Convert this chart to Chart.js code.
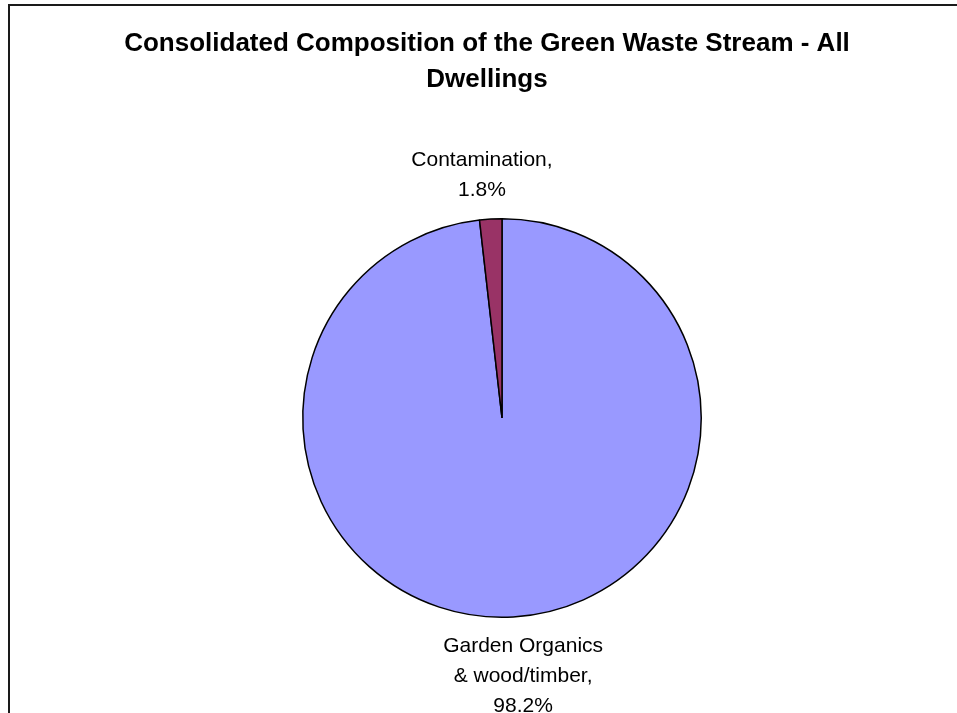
<!doctype html>
<html>
<head>
<title>Green Waste Stream - All Dwellings</title>
<script src="https://cdn.jsdelivr.net/npm/chart.js@4/dist/chart.umd.min.js"></script>
<style>
body { margin: 0; background: #fff; }
canvas { display: block; }
</style>
</head>
<body>
<canvas id="mycanvas" width="957" height="713"></canvas>
<script>
// chart data
var categories = ["Garden Organics & wood/timber", "Contamination"];
var labelLines = [["Garden Organics", "& wood/timber,"], ["Contamination,"]];
var shares = [98.2, 1.8];
var sliceColours = ["#9999FF", "#993366"];

var titleLines = ["Consolidated Composition of the Green Waste Stream - All", "Dwellings"];

// white page + the chart frame (only top and left edges are visible)
var framePlugin = {
    id: 'frame',
    beforeDraw: function(chart) {
        var ctx = chart.ctx;
        ctx.save();
        ctx.fillStyle = '#fff';
        ctx.fillRect(0, 0, chart.width, chart.height);
        ctx.strokeStyle = '#1a1a1a';
        ctx.lineWidth = 2;
        ctx.beginPath();
        ctx.moveTo(9, chart.height + 5);
        ctx.lineTo(9, 5);
        ctx.lineTo(chart.width + 5, 5);
        ctx.stroke();
        ctx.restore();
    }
};

// title is drawn by hand: the built-in one gets squeezed by the layout padding
var titlePlugin = {
    id: 'bigTitle',
    afterDraw: function(chart) {
        var ctx = chart.ctx;
        ctx.save();
        ctx.font = 'bold 26px "Liberation Sans", Arial, sans-serif';
        ctx.fillStyle = '#000';
        ctx.textAlign = 'center';
        ctx.textBaseline = 'alphabetic';
        titleLines.forEach(function(t, i) {
            ctx.fillText(t, 487, 51 + i * 36);
        });
        ctx.restore();
    }
};

// excel style outside-end labels: "name, value%"
var sliceLabels = {
    id: 'sliceLabels',
    afterDatasetsDraw: function(chart) {
        var ctx = chart.ctx;
        var meta = chart.getDatasetMeta(0);
        var lineH = 30;
        var gap = 14;
        ctx.save();
        ctx.font = '21px "Liberation Sans", Arial, sans-serif';
        ctx.fillStyle = '#000';
        ctx.textAlign = 'center';
        ctx.textBaseline = 'middle';
        meta.data.forEach(function(arc, i) {
            var p = arc.getProps(['x', 'y', 'startAngle', 'endAngle', 'outerRadius'], true);
            var mid = (p.startAngle + p.endAngle) / 2;
            var dx = Math.cos(mid), dy = Math.sin(mid);
            var lines = labelLines[i].concat([shares[i].toFixed(1) + '%']);
            var w = 0;
            lines.forEach(function(l) { w = Math.max(w, ctx.measureText(l).width); });
            var h = lines.length * lineH;
            var ax = p.x + dx * (p.outerRadius + gap);
            var ay = p.y + dy * (p.outerRadius + gap);
            var cx = ax + dx * w;
            var cy = ay + dy * h / 2;
            lines.forEach(function(l, k) {
                ctx.fillText(l, cx, cy - h / 2 + lineH / 2 + k * lineH);
            });
        });
        ctx.restore();
    }
};

var ctx = document.getElementById('mycanvas');

var pieChart = new Chart(ctx, {
    type: 'pie',
    data: {
        labels: categories,
        datasets: [{
            data: shares,
            backgroundColor: sliceColours,
            borderColor: '#000',
            borderWidth: 1.5
        }]
    },
    options: {
        responsive: false,
        animation: false,
        events: [],
        layout: {
            padding: { left: 302, right: 255, top: 218, bottom: 95 }
        },
        plugins: {
            legend: { display: false },
            tooltip: { enabled: false },
            title: { display: false }
        }
    },
    plugins: [framePlugin, titlePlugin, sliceLabels]
});
</script>
</body>
</html>
